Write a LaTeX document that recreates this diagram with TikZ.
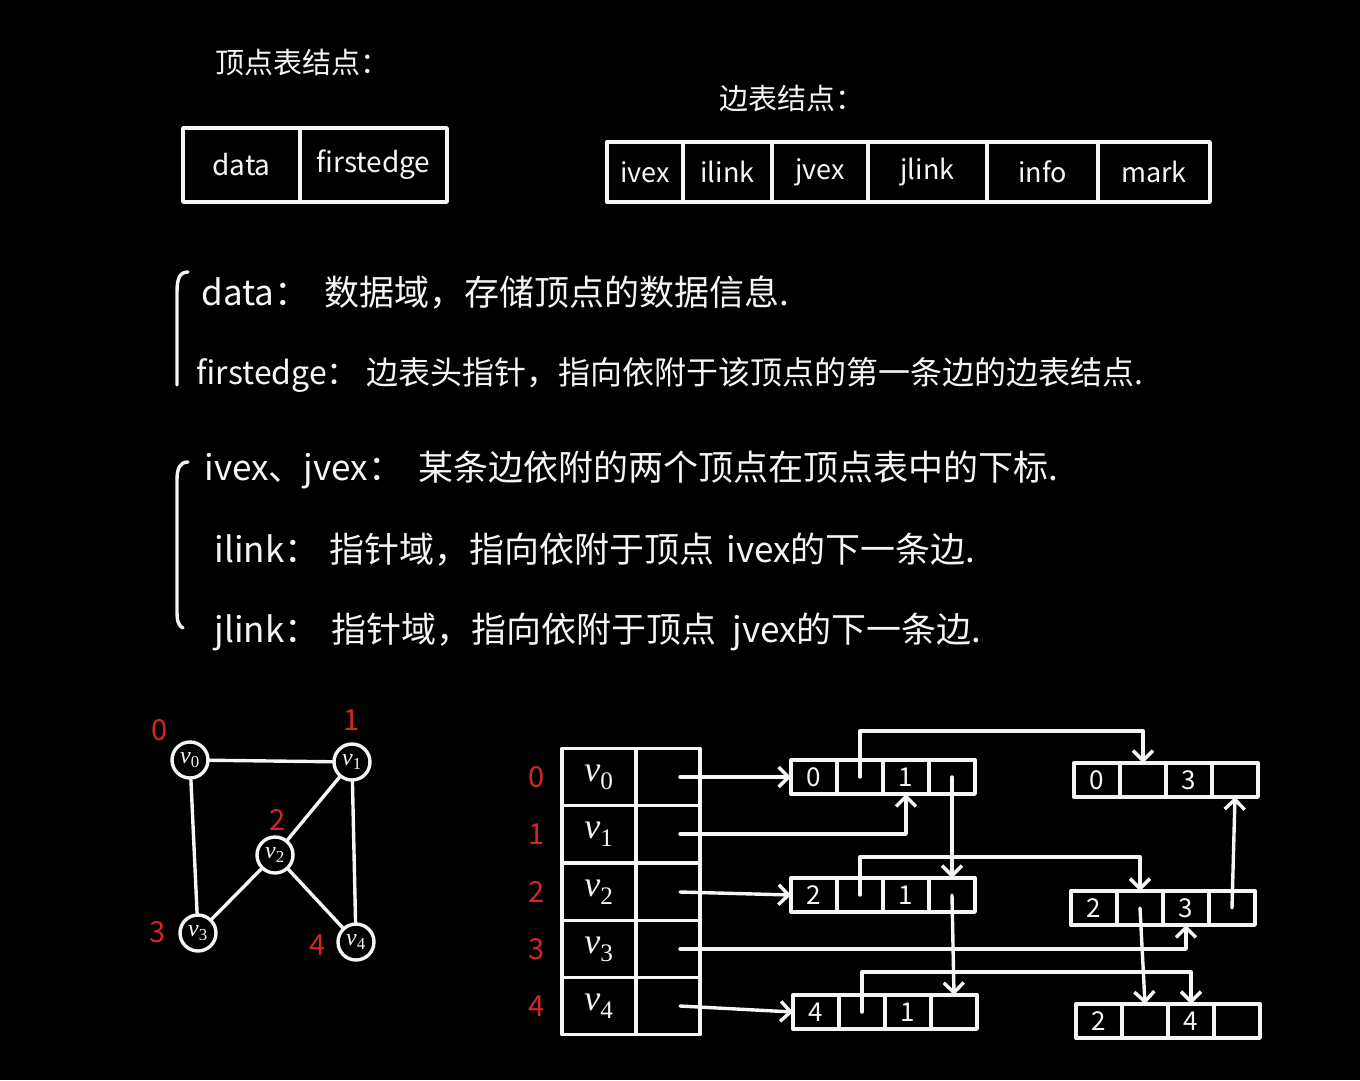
\documentclass[tikz,border=0pt]{standalone}
\usepackage{fontspec}
\setmainfont{Noto Sans CJK SC}
\newfontfamily\vfont{Liberation Serif}
\usetikzlibrary{arrows.meta,calc}
\definecolor{ink}{RGB}{245,245,245}
\definecolor{idx}{RGB}{212,38,38}
\newcommand{\vsub}[1]{{\vfont\itshape v}\textsubscript{\vfont #1}}
\newcommand{\erec}[5]{%
 \node[ecell] (#1a) at ({#2+23},#3) {#4};
 \node[ecell] (#1b) at ({#2+69},#3) {};
 \node[ecell] (#1c) at ({#2+115},#3) {#5};
 \node[ecell] (#1d) at ({#2+161},#3) {};
}
\begin{document}
\begin{tikzpicture}[x=1pt,y=-1pt,line width=3.4pt,color=ink,line cap=round,line join=round,
  hbox/.style={draw,minimum height=74pt,inner sep=0pt,outer sep=0pt,font=\fontsize{28}{32}\selectfont},
  fbox/.style={draw,minimum height=60pt,inner sep=0pt,outer sep=0pt,font=\fontsize{27}{32}\selectfont},
  tcell/.style={draw,minimum height=57.5pt,inner sep=0pt,outer sep=0pt,font=\fontsize{36}{40}\selectfont},
  ecell/.style={draw,minimum width=46pt,minimum height=34pt,inner sep=0pt,outer sep=0pt,font=\fontsize{26}{30}\selectfont},
  gnode/.style={draw,circle,minimum size=36pt,inner sep=0pt,font=\fontsize{24}{26}\selectfont},
  idxlab/.style={text=idx,font=\fontsize{29}{32}\selectfont,inner sep=0pt},
  headtxt/.style={font=\fontsize{29}{32}\selectfont,inner sep=0pt},
  expl/.style={anchor=west,font=\fontsize{35}{40}\selectfont,inner sep=0pt},
  lnk/.style={-{Straight Barb[length=10pt,width=20pt]}}]
\fill[black] (0,0) rectangle (1360,1080);
\useasboundingbox (0,0) rectangle (1360,1080);

% headings
\node[headtxt] (h1) at (302,62) {顶点表结点：};
\node[headtxt] (h2) at (792,98) {边表结点：};

% vertex node structure
\node[hbox,minimum width=117pt] (vd) at (241.5,165) {data};
\node[hbox,minimum width=147pt] (vf) at (373.5,165) {firstedge};

% edge node structure
\node[fbox,minimum width=76pt] (f1) at (645,172) {ivex};
\node[fbox,minimum width=89pt] (f2) at (727.5,172) {ilink};
\node[fbox,minimum width=96pt] (f3) at (820,172) {jvex};
\node[fbox,minimum width=119pt] (f4) at (927.5,172) {jlink};
\node[fbox,minimum width=111pt] (f5) at (1042.5,172) {info};
\node[fbox,minimum width=112pt] (f6) at (1154,172) {mark};

% explanations
\draw (188,272) .. controls (180,272) and (177,278) .. (177,292) -- (177,385);
\node[expl] (x1) at (200,292) {data：\hspace{15pt}数据域，存储顶点的数据信息.};
\node[expl,font=\fontsize{32}{38}\selectfont] (x2) at (195,375) {firstedge：\hspace{8pt}边表头指针，指向依附于该顶点的第一条边的边表结点.};
\draw (188,462) .. controls (180,462) and (177,468) .. (177,480) -- (177,612) .. controls (177,622) and (179,626) .. (183,628);
\node[expl] (x3) at (203,470) {ivex、jvex：\hspace{15pt}某条边依附的两个顶点在顶点表中的下标.};
\node[expl] (x4) at (213,550) {ilink：\hspace{10pt}指针域，指向依附于顶点\hspace{12pt}ivex的下一条边.};
\node[expl] (x5) at (213,632) {jlink：\hspace{12pt}指针域，指向依附于顶点\hspace{16pt}jvex的下一条边.};

% graph
\node[gnode] (g0) at (190,760) {\vsub{0}};
\node[gnode] (g1) at (352,762) {\vsub{1}};
\node[gnode] (g2) at (275,855) {\vsub{2}};
\node[gnode] (g3) at (198,933) {\vsub{3}};
\node[gnode] (g4) at (356,942) {\vsub{4}};
\draw (g0) -- (g1);
\draw (g0) -- (g3);
\draw (g1) -- (g2);
\draw (g1) -- (g4);
\draw (g2) -- (g3);
\draw (g2) -- (g4);
\node[idxlab] (gi0) at (160,730) {0};
\node[idxlab] (gi1) at (352,720) {1};
\node[idxlab] (gi2) at (278,820) {2};
\node[idxlab] (gi3) at (158,932) {3};
\node[idxlab] (gi4) at (318,945) {4};

% vertex table
\foreach \i/\yy in {0/777,1/834,2/892,3/949,4/1006}{
  \node[tcell,minimum width=74pt] (td\i) at (599,\yy) {\vsub{\i}};
  \node[tcell,minimum width=64pt] (tp\i) at (668,\yy) {};
  \node[idxlab] (ti\i) at (537,\yy) {\i};
}

% edge records
\erec{e1}{791}{777}{0}{1}
\erec{e2}{791}{895}{2}{1}
\erec{e3}{793}{1012}{4}{1}
\erec{e4}{1074}{780}{0}{3}
\erec{e5}{1071}{908}{2}{3}
\erec{e6}{1076}{1021}{2}{4}

\coordinate (k1) at (0,731);
\coordinate (k2) at (0,857);
\coordinate (k3) at (0,972);

% firstedge pointers
\draw[lnk] ([xshift=12pt]tp0.center) -- (e1a.west);
\draw[lnk] ([xshift=12pt]tp1.center) -| (e1c.south);
\draw[lnk] ([xshift=12pt]tp2.center) -- (e2a.west);
\draw[lnk] ([xshift=12pt]tp3.center) -| (e5c.south);
\draw[lnk] ([xshift=12pt]tp4.center) -- (e3a.west);

% ilink / jlink pointers
\draw[lnk] (e1b.center) -- (e1b.center |- k1) -| (e4b.north);
\draw[lnk] (e1d.center) -- (e2d.north);
\draw[lnk] (e2b.center) -- (e2b.center |- k2) -| (e5b.north);
\draw[lnk] (e2d.center) -- (e3d.north);
\draw[lnk] (e3b.center) -- (e3b.center |- k3) -| (e6c.north);
\draw[lnk] (e5b.center) -- (e6b.north);
\draw[lnk] (e5d.center) -- (e4d.south);
\end{tikzpicture}
\end{document}
